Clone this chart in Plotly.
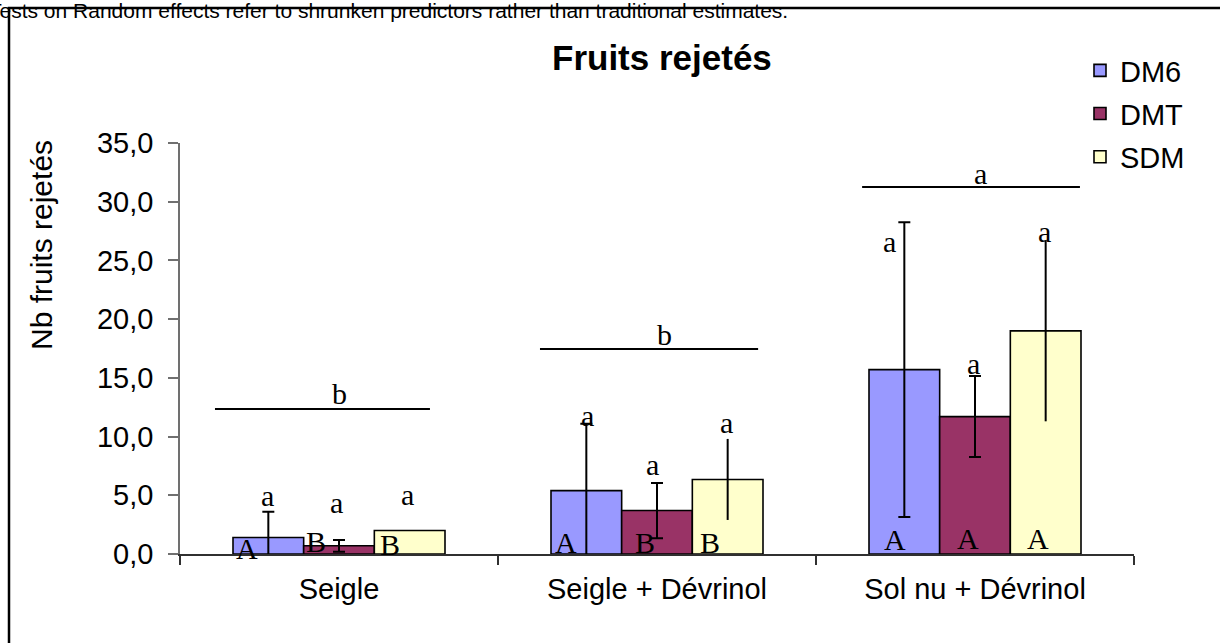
import plotly.graph_objects as go

# ---------------- data ----------------
categories = ["Seigle", "Seigle + Dévrinol", "Sol nu + Dévrinol"]
series_names = ["DM6", "DMT", "SDM"]

dm6_values = [1.4, 5.4, 15.7]
dm6_errors = [2.2, 5.7, 12.55]
dmt_values = [0.7, 3.7, 11.7]
dmt_errors = [0.5, 2.35, 3.45]
sdm_values = [2.0, 6.35, 19.0]
sdm_errors = [0.0, 3.45, 7.7]

# significance letters
dm6_upper_letters = ["a", "a", "a"]
dmt_upper_letters = ["a", "a", "a"]
sdm_upper_letters = ["a", "a", "a"]
dm6_lower_letters = ["A", "A", "A"]
dmt_lower_letters = ["B", "B", "A"]
sdm_lower_letters = ["B", "B", "A"]
group_letters = ["b", "b", "a"]

y_ticks = [0, 5, 10, 15, 20, 25, 30, 35]

# ---------------- styles / placements ----------------
colors = ["#9999FF", "#993366", "#FFFFCC"]
cap_widths = [6, 6, 0]

# label placements (x offset from category centre, y in data units)
upper_x_off = [[-0.226, -0.009, 0.214], [-0.22, -0.013, 0.22], [-0.27, -0.006, 0.22]]
upper_y = [[5.0, 4.4, 5.05], [11.8, 7.6, 11.2], [26.6, 16.2, 27.5]]
lower_x_off = [[-0.29, -0.072, 0.16], [-0.286, -0.038, 0.167], [-0.252, -0.022, 0.198]]
lower_y = [[0.5, 1.1, 0.77], [0.94, 0.94, 0.94], [1.2, 1.35, 1.35]]
group_line_x = [[-0.39, 0.286], [-0.368, 0.318], [-0.355, 0.33]]
group_line_y = [12.35, 17.46, 31.26]
group_letter_x_off = [0.003, 0.025, 0.016]
group_letter_y = [13.7, 18.7, 32.4]

W, H = 1220, 643
L, R, T, B = 180, 86, 143, 89
PW, PH = W - L - R, H - T - B


def px_x(px):
    return (px - L) / PW


def px_y(py):
    return (H - B - py) / PH


serif = "Liberation Serif, Times New Roman, serif"
sans = "Liberation Sans, Arial, sans-serif"

fig = go.Figure()
all_vals = [dm6_values, dmt_values, sdm_values]
all_errs = [dm6_errors, dmt_errors, sdm_errors]
for i, name in enumerate(series_names):
    fig.add_trace(go.Bar(
        name=name, x=categories, y=all_vals[i],
        marker=dict(color=colors[i], line=dict(color="black", width=1.6)),
        error_y=dict(type="data", array=all_errs[i], visible=True,
                     color="black", thickness=2, width=cap_widths[i]),
        legendgroup=name,
    ))

annotations = []
shapes = []
uppers = [dm6_upper_letters, dmt_upper_letters, sdm_upper_letters]
lowers = [dm6_lower_letters, dmt_lower_letters, sdm_lower_letters]
for c in range(3):
    for s in range(3):
        annotations.append(dict(x=c + upper_x_off[c][s], y=upper_y[c][s], xref="x", yref="y",
                                text=uppers[s][c], showarrow=False,
                                xanchor="center", yanchor="middle",
                                font=dict(family=serif, size=30, color="black")))
        annotations.append(dict(x=c + lower_x_off[c][s], y=lower_y[c][s], xref="x", yref="y",
                                text=lowers[s][c], showarrow=False,
                                xanchor="center", yanchor="middle",
                                font=dict(family=serif, size=30, color="black")))
    shapes.append(dict(type="line", xref="x", yref="y",
                       x0=c + group_line_x[c][0], x1=c + group_line_x[c][1],
                       y0=group_line_y[c], y1=group_line_y[c],
                       line=dict(color="black", width=2)))
    annotations.append(dict(x=c + group_letter_x_off[c], y=group_letter_y[c], xref="x", yref="y",
                            text=group_letters[c], showarrow=False,
                            xanchor="center", yanchor="middle",
                            font=dict(family=serif, size=30, color="black")))

# title
annotations.append(dict(x=px_x(662), y=px_y(57), xref="paper", yref="paper",
                        xanchor="center", yanchor="middle",
                        text="<b>Fruits rejetés</b>", showarrow=False,
                        font=dict(family=sans, size=35, color="black")))
# y-axis title
annotations.append(dict(x=px_x(41), y=px_y(245), xref="paper", yref="paper",
                        xanchor="center", yanchor="middle",
                        text="Nb fruits rejetés", textangle=-90, showarrow=False,
                        font=dict(family=sans, size=30, color="black")))
# cropped note at top
annotations.append(dict(x=px_x(790), y=px_y(10), xref="paper", yref="paper",
                        xanchor="right", yanchor="middle",
                        text="Tests on Random effects refer to shrunken predictors rather than traditional estimates.",
                        showarrow=False, font=dict(family=sans, size=21, color="black")))

# outer chart frame
shapes.append(dict(type="rect", xref="paper", yref="paper",
                   x0=px_x(9), x1=px_x(1240), y0=px_y(8), y1=px_y(670),
                   line=dict(color="black", width=2.5), layer="below"))

fig.update_layout(
    width=W, height=H,
    margin=dict(l=L, r=R, t=T, b=B, autoexpand=False),
    template="none",
    paper_bgcolor="white", plot_bgcolor="white",
    barmode="group", bargap=1 / 3, bargroupgap=0,
    separators=",.",
    showlegend=True,
    legend=dict(x=px_x(1080), y=px_y(45), xanchor="left", yanchor="top",
                font=dict(family=sans, size=29, color="black"),
                tracegroupgap=2.5, bgcolor="rgba(0,0,0,0)", traceorder="grouped"),
    xaxis=dict(type="category", categoryorder="array", categoryarray=categories,
               range=[-0.5, 2.5], showline=True, linecolor="#303030", linewidth=1.5,
               ticks="outside", tickson="boundaries", ticklen=9, tickcolor="#303030",
               tickwidth=1.5, showgrid=False, zeroline=False, ticklabelstandoff=8,
               tickfont=dict(family=sans, size=29, color="black")),
    yaxis=dict(range=[0, 35], tickvals=y_ticks, tickformat=".1f",
               showline=True, linecolor="#707070", linewidth=1.5,
               ticks="outside", ticklen=10, tickcolor="#707070", tickwidth=1.5,
               showgrid=False, zeroline=False, ticklabelstandoff=9,
               tickfont=dict(family=sans, size=29, color="black")),
    annotations=annotations, shapes=shapes,
)

fig.write_html("out.html", config={"displayModeBar": False},
               post_script="document.body.style.margin='0';document.body.style.overflow='hidden';")
